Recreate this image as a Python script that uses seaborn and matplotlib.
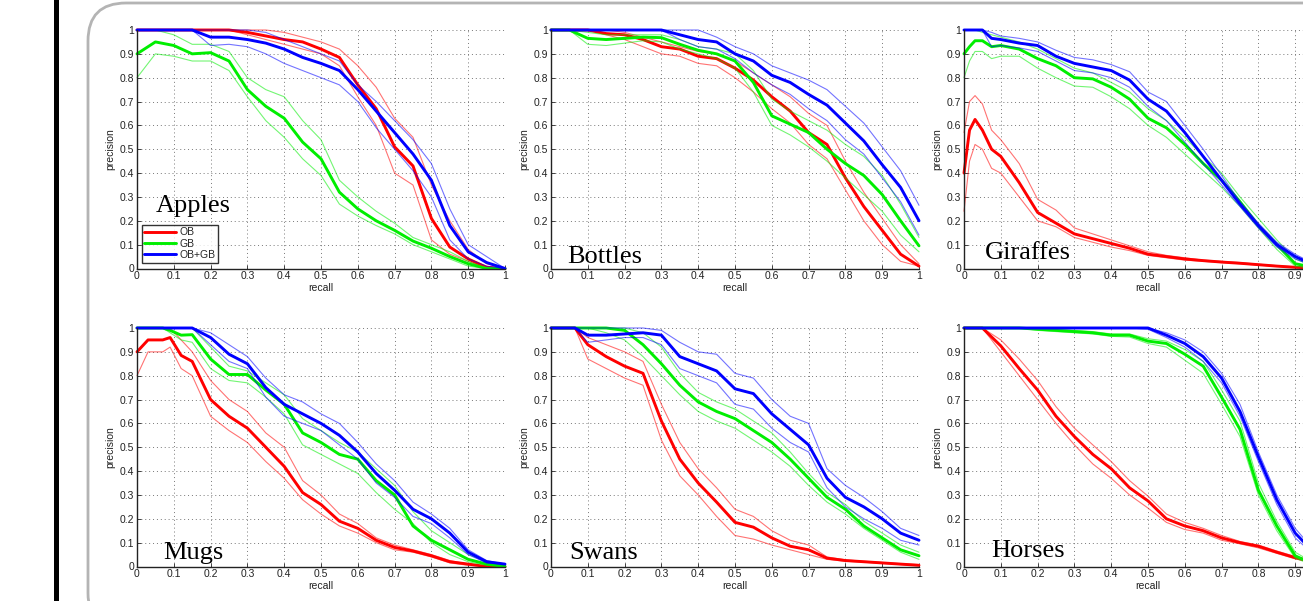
import numpy as np
import pandas as pd
import seaborn as sns
import matplotlib
matplotlib.use("Agg")
import matplotlib.pyplot as plt
from matplotlib.patches import FancyBboxPatch, Rectangle
from matplotlib.transforms import IdentityTransform

# ---------------- data ----------------
series_names = ["OB", "GB", "OB+GB"]
panel_titles = ["Apples", "Bottles", "Giraffes", "Mugs", "Swans", "Horses"]
tick_vals = [0, 0.1, 0.2, 0.3, 0.4, 0.5, 0.6, 0.7, 0.8, 0.9, 1]
tick_labels = ["0", "0.1", "0.2", "0.3", "0.4", "0.5", "0.6", "0.7", "0.8", "0.9", "1"]

grid05 = [0, 0.05, 0.1, 0.15, 0.2, 0.25, 0.3, 0.35, 0.4, 0.45, 0.5,
          0.55, 0.6, 0.65, 0.7, 0.75, 0.8, 0.85, 0.9, 0.95, 1.0]

# Apples
apples_recall = grid05
apples_ob    = [1,1,1,1,1,1,0.99,0.975,0.96,0.95,0.92,0.885,0.77,0.67,0.51,0.43,0.21,0.09,0.04,0.005,0]
apples_ob_hi = [1,1,1,1,1,1,1,1,0.99,0.97,0.95,0.92,0.85,0.76,0.63,0.55,0.35,0.2,0.08,0.02,0]
apples_ob_lo = [1,1,1,1,1,1,0.98,0.96,0.94,0.92,0.9,0.85,0.72,0.6,0.4,0.35,0.12,0.06,0.03,0,0]
apples_gb    = [0.9,0.95,0.935,0.9,0.905,0.87,0.75,0.68,0.63,0.53,0.46,0.32,0.25,0.2,0.16,0.115,0.085,0.05,0.02,0,0]
apples_gb_hi = [1,1,0.98,0.94,0.94,0.91,0.8,0.75,0.72,0.62,0.54,0.37,0.3,0.24,0.19,0.13,0.1,0.07,0.03,0,0]
apples_gb_lo = [0.8,0.9,0.89,0.87,0.87,0.83,0.72,0.62,0.55,0.46,0.39,0.27,0.22,0.18,0.145,0.1,0.07,0.04,0.01,0,0]
apples_obgb    = [1,1,1,1,0.97,0.97,0.96,0.945,0.92,0.885,0.86,0.83,0.75,0.66,0.57,0.48,0.37,0.18,0.07,0.025,0]
apples_obgb_hi = [1,1,1,1,1,1,1,0.99,0.96,0.93,0.9,0.87,0.77,0.7,0.62,0.54,0.44,0.25,0.1,0.05,0]
apples_obgb_lo = [1,1,1,1,0.935,0.94,0.93,0.9,0.86,0.83,0.8,0.77,0.7,0.59,0.5,0.41,0.3,0.12,0.04,0.01,0]

# Bottles
bottles_recall = grid05
bottles_ob    = [1,1,1,0.985,0.98,0.96,0.93,0.92,0.89,0.88,0.84,0.79,0.72,0.66,0.57,0.52,0.38,0.26,0.16,0.06,0.01]
bottles_ob_hi = [1,1,1,1,0.99,0.97,0.95,0.93,0.91,0.9,0.87,0.82,0.77,0.72,0.65,0.6,0.45,0.32,0.21,0.1,0.02]
bottles_ob_lo = [1,1,1,0.98,0.96,0.93,0.9,0.89,0.86,0.85,0.8,0.74,0.67,0.61,0.52,0.46,0.33,0.2,0.1,0.03,0.01]
bottles_gb    = [1,1,0.965,0.96,0.965,0.97,0.968,0.94,0.915,0.9,0.87,0.78,0.64,0.605,0.57,0.5,0.44,0.39,0.31,0.2,0.095]
bottles_gb_hi = [1,1,0.99,0.98,0.98,0.98,0.98,0.96,0.93,0.92,0.9,0.83,0.71,0.66,0.62,0.58,0.52,0.47,0.39,0.27,0.13]
bottles_gb_lo = [1,1,0.94,0.935,0.945,0.955,0.95,0.92,0.9,0.88,0.84,0.74,0.6,0.56,0.51,0.45,0.38,0.31,0.24,0.14,0.07]
bottles_obgb    = [1,1,1,1,1,1,1,0.98,0.96,0.95,0.9,0.87,0.81,0.78,0.73,0.685,0.61,0.535,0.435,0.34,0.2]
bottles_obgb_hi = [1,1,1,1,1,1,1,1,1,0.97,0.93,0.9,0.85,0.82,0.79,0.75,0.68,0.61,0.51,0.41,0.265]
bottles_obgb_lo = [1,1,1,1,1,1,1,0.96,0.93,0.92,0.88,0.82,0.77,0.73,0.67,0.62,0.54,0.48,0.38,0.28,0.14]

# Giraffes
giraffes_recall = [0, 0.015, 0.03, 0.05, 0.075, 0.1, 0.15, 0.2, 0.25, 0.3, 0.35, 0.4,
                   0.45, 0.5, 0.55, 0.6, 0.65, 0.7, 0.75, 0.8, 0.85, 0.9, 0.95, 1.0]
giraffes_ob    = [0.4,0.58,0.625,0.58,0.5,0.47,0.36,0.235,0.19,0.145,0.125,0.105,0.085,0.06,0.05,0.04,0.033,0.027,0.022,0.016,0.01,0.005,0.002,0]
giraffes_ob_hi = [0.57,0.7,0.725,0.69,0.58,0.54,0.44,0.29,0.245,0.17,0.145,0.12,0.095,0.07,0.055,0.045,0.035,0.03,0.025,0.018,0.012,0.007,0.003,0]
giraffes_ob_lo = [0.24,0.45,0.52,0.5,0.42,0.4,0.3,0.2,0.175,0.13,0.11,0.09,0.075,0.055,0.045,0.035,0.03,0.025,0.02,0.014,0.009,0.004,0.001,0]
giraffes_gb    = [0.9,0.93,0.955,0.955,0.93,0.935,0.92,0.88,0.85,0.8,0.795,0.76,0.71,0.63,0.59,0.52,0.44,0.37,0.28,0.18,0.1,0.02,0.005,0]
giraffes_gb_hi = [1,1,1,0.99,0.98,0.97,0.95,0.92,0.88,0.84,0.82,0.78,0.74,0.67,0.62,0.55,0.47,0.4,0.3,0.21,0.12,0.04,0.01,0]
giraffes_gb_lo = [0.8,0.87,0.91,0.91,0.88,0.89,0.89,0.84,0.8,0.765,0.76,0.72,0.67,0.6,0.55,0.48,0.41,0.34,0.26,0.17,0.08,0.01,0,0]
giraffes_obgb    = [1,1,1,1,0.965,0.96,0.945,0.935,0.89,0.86,0.845,0.83,0.79,0.71,0.66,0.57,0.47,0.37,0.27,0.18,0.1,0.05,0.015,0]
giraffes_obgb_hi = [1,1,1,1,0.99,0.975,0.965,0.95,0.915,0.885,0.875,0.855,0.825,0.74,0.7,0.6,0.5,0.39,0.28,0.19,0.11,0.06,0.02,0]
giraffes_obgb_lo = [1,1,1,1,0.93,0.935,0.925,0.91,0.87,0.83,0.82,0.8,0.76,0.68,0.62,0.53,0.44,0.35,0.26,0.17,0.09,0.04,0.01,0]

# Mugs
mugs_recall = [0, 0.03, 0.07, 0.09, 0.12, 0.15, 0.2, 0.25, 0.3, 0.35, 0.4, 0.45,
               0.5, 0.55, 0.6, 0.65, 0.7, 0.75, 0.8, 0.85, 0.9, 0.95, 1.0]
mugs_ob    = [0.9,0.95,0.95,0.96,0.885,0.86,0.7,0.63,0.58,0.5,0.42,0.31,0.26,0.19,0.16,0.11,0.08,0.065,0.045,0.02,0.01,0,0]
mugs_ob_hi = [1,1,1,1,0.95,0.9,0.78,0.7,0.65,0.56,0.5,0.36,0.3,0.22,0.18,0.12,0.09,0.07,0.05,0.025,0.01,0,0]
mugs_ob_lo = [0.8,0.9,0.9,0.92,0.83,0.8,0.63,0.57,0.52,0.44,0.37,0.28,0.22,0.17,0.14,0.1,0.07,0.06,0.04,0.015,0.005,0,0]
mugs_gb    = [1,1,1,0.99,0.97,0.972,0.87,0.805,0.805,0.74,0.68,0.56,0.52,0.47,0.45,0.36,0.3,0.17,0.11,0.07,0.03,0.01,0]
mugs_gb_hi = [1,1,1,1,1,1,0.92,0.84,0.82,0.77,0.72,0.62,0.57,0.52,0.48,0.41,0.34,0.23,0.15,0.1,0.05,0.02,0]
mugs_gb_lo = [1,1,1,0.98,0.95,0.94,0.83,0.78,0.77,0.71,0.64,0.51,0.47,0.43,0.39,0.31,0.24,0.18,0.1,0.05,0.02,0.005,0]
mugs_obgb    = [1,1,1,1,1,1,0.96,0.89,0.85,0.75,0.68,0.64,0.6,0.55,0.48,0.39,0.32,0.24,0.2,0.14,0.06,0.02,0.01]
mugs_obgb_hi = [1,1,1,1,1,1,0.98,0.93,0.88,0.79,0.72,0.69,0.64,0.6,0.52,0.43,0.36,0.27,0.22,0.16,0.07,0.025,0.01]
mugs_obgb_lo = [1,1,1,1,1,1,0.93,0.86,0.83,0.71,0.63,0.6,0.57,0.51,0.45,0.35,0.29,0.21,0.18,0.12,0.05,0.015,0.01]

# Swans
swans_recall = [0, 0.065, 0.1, 0.15, 0.2, 0.25, 0.3, 0.35, 0.4, 0.45, 0.5,
                0.55, 0.6, 0.65, 0.7, 0.75, 0.8, 0.85, 0.9, 0.95, 1.0]
swans_ob    = [1,1,0.93,0.88,0.84,0.81,0.61,0.45,0.35,0.27,0.185,0.165,0.12,0.085,0.07,0.035,0.025,0.02,0.015,0.01,0.005]
swans_ob_hi = [1,1,0.96,0.93,0.9,0.86,0.68,0.52,0.41,0.33,0.24,0.21,0.15,0.11,0.09,0.04,0.028,0.022,0.017,0.012,0.008]
swans_ob_lo = [1,1,0.87,0.83,0.79,0.76,0.53,0.38,0.3,0.21,0.13,0.115,0.09,0.07,0.05,0.03,0.022,0.018,0.013,0.008,0.003]
swans_gb    = [1,1,1,1,0.99,0.93,0.85,0.76,0.69,0.65,0.62,0.57,0.52,0.45,0.37,0.29,0.24,0.17,0.12,0.07,0.045]
swans_gb_hi = [1,1,1,1,1,0.98,0.92,0.81,0.73,0.69,0.66,0.61,0.56,0.48,0.39,0.31,0.26,0.19,0.14,0.09,0.06]
swans_gb_lo = [1,1,1,0.98,0.95,0.88,0.8,0.72,0.65,0.61,0.58,0.53,0.48,0.42,0.34,0.27,0.22,0.16,0.11,0.06,0.03]
swans_obgb    = [1,1,0.97,0.97,0.975,0.98,0.97,0.88,0.85,0.82,0.745,0.725,0.64,0.575,0.51,0.37,0.29,0.25,0.2,0.14,0.11]
swans_obgb_hi = [1,1,1,1,1,1,0.99,0.94,0.9,0.89,0.81,0.79,0.7,0.63,0.6,0.41,0.34,0.29,0.23,0.16,0.13]
swans_obgb_lo = [1,1,0.94,0.95,0.96,0.96,0.93,0.83,0.8,0.77,0.68,0.66,0.58,0.52,0.48,0.33,0.25,0.2,0.16,0.11,0.09]

# Horses
horses_recall = grid05
horses_ob    = [1,1,0.925,0.83,0.74,0.63,0.545,0.47,0.41,0.33,0.275,0.2,0.17,0.15,0.12,0.1,0.085,0.06,0.037,0.02,0.005]
horses_ob_hi = [1,1,0.95,0.87,0.78,0.67,0.58,0.51,0.44,0.36,0.295,0.22,0.185,0.16,0.13,0.105,0.09,0.065,0.042,0.023,0.007]
horses_ob_lo = [1,1,0.9,0.8,0.7,0.6,0.51,0.43,0.37,0.3,0.245,0.185,0.155,0.14,0.11,0.095,0.078,0.055,0.032,0.015,0.003]
horses_gb    = [1,1,1,1,0.995,0.99,0.985,0.98,0.97,0.97,0.945,0.935,0.89,0.84,0.71,0.575,0.32,0.17,0.045,0.01,0]
horses_gb_hi = [1,1,1,1,1,0.995,0.99,0.985,0.975,0.975,0.955,0.945,0.91,0.86,0.74,0.61,0.35,0.19,0.06,0.015,0]
horses_gb_lo = [1,1,1,1,0.99,0.985,0.98,0.975,0.965,0.962,0.935,0.92,0.865,0.81,0.68,0.545,0.3,0.15,0.035,0.005,0]
horses_obgb    = [1,1,1,1,1,1,1,1,1,1,1,0.97,0.935,0.88,0.79,0.65,0.46,0.28,0.14,0.06,0.01]
horses_obgb_hi = [1,1,1,1,1,1,1,1,1,1,1,0.98,0.95,0.9,0.81,0.68,0.48,0.3,0.16,0.07,0.015]
horses_obgb_lo = [1,1,1,1,1,1,1,1,1,1,0.995,0.96,0.92,0.86,0.77,0.63,0.44,0.26,0.12,0.05,0.005]

panels = [
    (apples_recall,   [(apples_ob, apples_ob_hi, apples_ob_lo), (apples_gb, apples_gb_hi, apples_gb_lo), (apples_obgb, apples_obgb_hi, apples_obgb_lo)]),
    (bottles_recall,  [(bottles_ob, bottles_ob_hi, bottles_ob_lo), (bottles_gb, bottles_gb_hi, bottles_gb_lo), (bottles_obgb, bottles_obgb_hi, bottles_obgb_lo)]),
    (giraffes_recall, [(giraffes_ob, giraffes_ob_hi, giraffes_ob_lo), (giraffes_gb, giraffes_gb_hi, giraffes_gb_lo), (giraffes_obgb, giraffes_obgb_hi, giraffes_obgb_lo)]),
    (mugs_recall,     [(mugs_ob, mugs_ob_hi, mugs_ob_lo), (mugs_gb, mugs_gb_hi, mugs_gb_lo), (mugs_obgb, mugs_obgb_hi, mugs_obgb_lo)]),
    (swans_recall,    [(swans_ob, swans_ob_hi, swans_ob_lo), (swans_gb, swans_gb_hi, swans_gb_lo), (swans_obgb, swans_obgb_hi, swans_obgb_lo)]),
    (horses_recall,   [(horses_ob, horses_ob_hi, horses_ob_lo), (horses_gb, horses_gb_hi, horses_gb_lo), (horses_obgb, horses_obgb_hi, horses_obgb_lo)]),
]
title_pos = [(0.05, 0.235), (0.043, 0.025), (0.057, 0.04), (0.07, 0.03), (0.05, 0.03), (0.074, 0.04)]

# ---------------- styling ----------------
sns.set_style("white")
plt.rcParams["font.family"] = ["Liberation Sans", "DejaVu Sans"]
colors = ["#ff0000", "#00ee00", "#0000ff"]

W, H = 1303, 601
fig = plt.figure(figsize=(W / 100, H / 100), dpi=100)
fig.patch.set_facecolor("white")

# decorations: black bar and rounded frame
fig.patches.append(Rectangle((54, -5), 5, H + 10, transform=IdentityTransform(),
                             facecolor="black", edgecolor="none", zorder=0))
fig.patches.append(FancyBboxPatch((88, -30), 1500, (H - 3) + 30,
                                  boxstyle="round,pad=0,rounding_size=38",
                                  transform=IdentityTransform(), facecolor="none",
                                  edgecolor="#b4b4b4", linewidth=2.0, zorder=0))

lefts = [137, 551, 964]
tops = [30, 328]
aw, ah = 368, 238.5

for i, (recall, series) in enumerate(panels):
    r, c = divmod(i, 3)
    left = lefts[c]
    top = tops[r]
    ax = fig.add_axes([left / W, (H - top - ah) / H, aw / W, ah / H])
    ax.set_facecolor("none")
    for k, (mean, hi, lo) in enumerate(series):
        for band in (hi, lo):
            sns.lineplot(x=recall, y=band, ax=ax, color=colors[k], lw=0.8, alpha=0.55,
                         estimator=None, sort=False, legend=False, clip_on=False)
        sns.lineplot(x=recall, y=mean, ax=ax, color=colors[k], lw=2.1,
                     estimator=None, sort=False, clip_on=False,
                     label=series_names[k] if i == 0 else None, legend=False)
    ax.set_xlim(0, 1)
    ax.set_ylim(0, 1)
    ax.set_xticks(tick_vals)
    ax.set_xticklabels(tick_labels)
    ax.set_yticks(tick_vals)
    ax.set_yticklabels(tick_labels)
    ax.tick_params(direction="in", length=3, width=0.6, labelsize=7.5, pad=2,
                   colors="#222222", bottom=True, left=True)
    ax.grid(True, linestyle=(0, (1, 3)), color="#777777", linewidth=0.7)
    for s in ("top", "right"):
        ax.spines[s].set_visible(False)
    for s in ("left", "bottom"):
        ax.spines[s].set_color("#222222")
        ax.spines[s].set_linewidth(1.0)
    ax.set_xlabel("recall", fontsize=7.5, labelpad=1, color="#222222")
    ax.set_ylabel("precision", fontsize=7.5, labelpad=3, color="#222222")
    tx, ty = title_pos[i]
    ax.text(tx, ty, panel_titles[i], transform=ax.transAxes, fontsize=19,
            family="Liberation Serif", va="baseline", ha="left", color="black", zorder=5)
    if i == 0:
        leg = ax.legend(loc="lower left", bbox_to_anchor=(0.013, 0.025), borderaxespad=0,
                        fontsize=7.5, frameon=True, fancybox=False, handlelength=3.0,
                        handletextpad=0.4, labelspacing=0.12, borderpad=0.25)
        leg.get_frame().set_edgecolor("black")
        leg.get_frame().set_linewidth(1.0)
        for lh in leg.get_lines():
            lh.set_linewidth(2.1)

fig.savefig("out.png", dpi=100)
